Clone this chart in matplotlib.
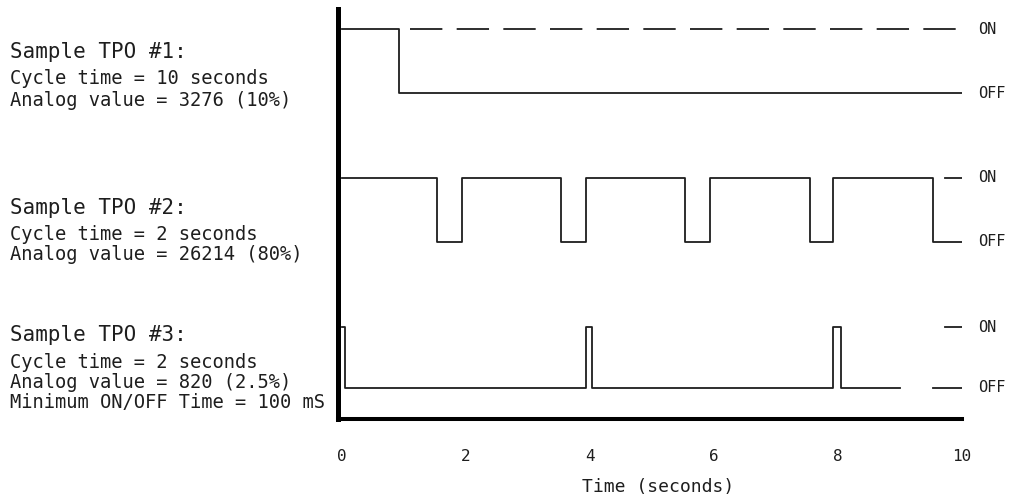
import matplotlib
matplotlib.use("Agg")
import matplotlib.pyplot as plt

plt.rcParams["font.family"] = ["DejaVu Sans Mono"]
plt.rcParams["lines.scale_dashes"] = False

INK = "#1e1e1e"

# switching times (s) and output state after each time (1 = ON, 0 = OFF)
tpo1_t = [0, 0.92, 10]
tpo1_s = [1, 0, 0]
tpo1_on_ref = [1.10, 10]          # dashed "would be ON" level

tpo2_t = [0, 1.53, 1.94, 3.53, 3.94, 5.53, 5.94, 7.55, 7.92, 9.53, 10]
tpo2_s = [1, 0, 1, 0, 1, 0, 1, 0, 1, 0, 0]

tpo3_t = [0, 0.05, 3.94, 4.04, 7.92, 8.05, 9.0]
tpo3_s = [1, 0, 1, 0, 1, 0, 0]

# short level markers next to the ON / OFF labels
ref_on = [9.73, 10]
ref_off = [9.53, 10]

x_ticks = [0, 2, 4, 6, 8, 10]

titles = ["Sample TPO #1:", "Sample TPO #2:", "Sample TPO #3:"]
notes = [
    ["Cycle time = 10 seconds", "Analog value = 3276 (10%)"],
    ["Cycle time = 2 seconds", "Analog value = 26214 (80%)"],
    ["Cycle time = 2 seconds", "Analog value = 820 (2.5%)",
     "Minimum ON/OFF Time = 100 mS"],
]

# layout: OFF / ON baseline of each trace (pixels above the time axis)
levels = [(326, 390), (177, 241), (31, 92)]
W, H = 1014, 497
title_y = [52, 208, 335]
note_y = [[79, 100], [235, 255], [362, 383, 403]]


def trace(ax, t, s, lev, **kw):
    off, on = lev
    y = [off + v * (on - off) for v in s]
    ax.plot(t, y, drawstyle="steps-post", color=INK, lw=1.3, **kw)


fig = plt.figure(figsize=(W / 100, H / 100), dpi=100)
ax = fig.add_axes([338 / W, (H - 419) / H, (962 - 338) / W, 410 / H])
ax.set_xlim(-0.065, 10)
ax.set_ylim(0, 410)

for side in ("top", "right"):
    ax.spines[side].set_visible(False)
ax.spines["left"].set_linewidth(3.6)
ax.spines["bottom"].set_linewidth(2.9)
ax.spines["left"].set_color("black")
ax.spines["bottom"].set_color("black")

trace(ax, tpo1_t, tpo1_s, levels[0])
ax.plot(tpo1_on_ref, [levels[0][1]] * 2, color=INK, lw=1.3,
        dashes=(23.3, 10.3))

trace(ax, tpo2_t, tpo2_s, levels[1])
ax.plot(ref_on, [levels[1][1]] * 2, color=INK, lw=1.3)

trace(ax, tpo3_t, tpo3_s, levels[2])
ax.plot(ref_on, [levels[2][1]] * 2, color=INK, lw=1.3)
ax.plot(ref_off, [levels[2][0]] * 2, color=INK, lw=1.3)

for off, on in levels:
    ax.text(10.26, on, "ON", fontsize=11, color=INK, va="center",
            clip_on=False)
    ax.text(10.26, off, "OFF", fontsize=11, color=INK, va="center",
            clip_on=False)

ax.set_yticks([])
ax.set_xticks(x_ticks)
ax.set_xticklabels([str(v) for v in x_ticks], fontsize=11.5, color=INK)
ax.tick_params(axis="x", length=0, pad=21.5)
ax.set_xlabel("Time (seconds)", fontsize=13, color=INK, labelpad=10.5)
ax.xaxis.label.set_x(0.513)

for i, title in enumerate(titles):
    fig.text(10 / W, 1 - title_y[i] / H, title, fontsize=15, color=INK,
             va="center")
    for line, yy in zip(notes[i], note_y[i]):
        fig.text(10 / W, 1 - yy / H, line, fontsize=13.5, color=INK,
                 va="center")

fig.savefig("out.png", dpi=100)
